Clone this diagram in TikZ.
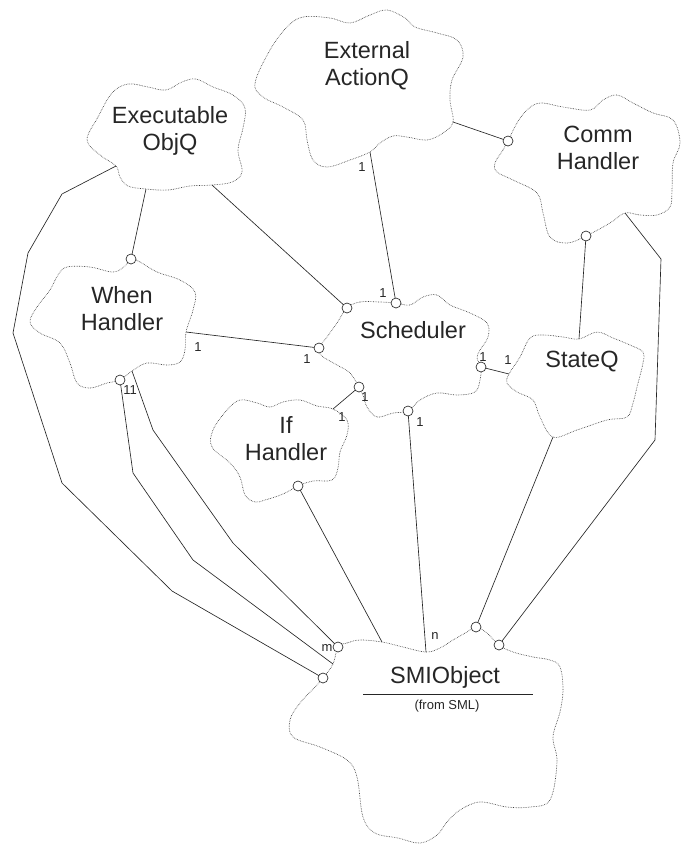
\documentclass[tikz,border=0pt]{standalone}
\usepackage{fontspec}
\setmainfont{Liberation Sans}
\begin{document}
\begin{tikzpicture}[x=1pt,y=-1pt,
  cloudline/.style={densely dotted,line width=.65pt,black!75},
  assoc/.style={line width=.65pt,black!85},
  ball/.style={draw=black!85,fill=white,line width=.65pt},
  cat/.style={font=\fontsize{23.5}{27}\selectfont,align=center,text=black!85},
  mult/.style={font=\fontsize{13}{15}\selectfont,inner sep=0pt,text=black!85}]
\useasboundingbox (0,0) rectangle (692,844);
% attachment points on the clouds
\coordinate (ext-r) at (453,122);
\coordinate (ext-b) at (370,152);
\coordinate (exq-r) at (212,185);
\coordinate (exq-b) at (146,189);
\coordinate (exq-l) at (116,166);
\coordinate (ch-l) at (508,141);
\coordinate (ch-br) at (625,213);
\coordinate (ch-b) at (586,236);
\coordinate (wh-t) at (131,259);
\coordinate (wh-r) at (186,332);
\coordinate (wh-b2) at (132,371);
\coordinate (wh-b) at (120,380);
\coordinate (sc-nw) at (347,308);
\coordinate (sc-n) at (396,303);
\coordinate (sc-e) at (481,367);
\coordinate (sc-s) at (408,411);
\coordinate (sc-sw) at (359,387);
\coordinate (sc-w) at (319,348);
\coordinate (st-l) at (509,374);
\coordinate (st-b) at (553,437);
\coordinate (st-t) at (579,339);
\coordinate (ih-t) at (333,409);
\coordinate (ih-b) at (298,486);
\coordinate (smi-m) at (338,647);
\coordinate (smi-n2) at (382,642);
\coordinate (smi-n) at (426,652);
\coordinate (smi-ne) at (476,627);
\coordinate (smi-e) at (499,645);
\coordinate (smi-l2) at (323,678);
\coordinate (smi-l) at (333,664);
% associations
\draw[assoc] (exq-b) -- (wh-t);
\draw[assoc] (exq-r) -- (sc-nw);
\draw[assoc] (exq-l) -- (62,194) -- (28,253) -- (13,333) -- (62,483) -- (172,591) -- (smi-l2);
\draw[assoc] (ext-b) -- (sc-n);
\draw[assoc] (ext-r) -- (ch-l);
\draw[assoc] (ch-b) -- (st-t);
\draw[assoc] (wh-r) -- (sc-w);
\draw[assoc] (sc-e) -- (st-l);
\draw[assoc] (ih-t) -- (sc-sw);
\draw[assoc] (sc-s) -- (smi-n);
\draw[assoc] (ih-b) -- (smi-n2);
\draw[assoc] (wh-b) -- (133,473) -- (193,560) -- (smi-l);
\draw[assoc] (wh-b2) -- (153,430) -- (233,543) -- (smi-m);
\draw[assoc] (st-b) -- (smi-ne);
\draw[assoc] (ch-br) -- (661,259) -- (655,440) -- (smi-e);
% clouds
\draw[cloudline] plot[smooth cycle,tension=.6] coordinates {(255,83) (270,50) (287,27) (303,17) (330,18) (350,23) (370,15) (387,10) (405,18) (415,27) (437,33) (457,40) (463,57) (452,80) (450,100) (ext-r) (443,133) (427,140) (407,137) (393,136) (380,143) (ext-b) (350,160) (327,167) (313,160) (307,140) (303,120) (283,107) (263,97)};
\draw[cloudline] plot[smooth cycle,tension=.6] coordinates {(87,140) (98,117) (112,93) (128,84) (148,87) (166,90) (182,82) (196,79) (213,87) (233,95) (245,108) (243,128) (238,150) (242,172) (232,182) (exq-r) (190,186) (168,190) (exq-b) (128,186) (120,177) (exq-l) (100,155)};
\draw[cloudline] plot[smooth cycle,tension=.6] coordinates {(495,163) (503,150) (ch-l) (517,123) (527,110) (540,103) (563,107) (590,110) (603,100) (617,95) (633,103) (653,113) (673,120) (680,143) (673,163) (672,190) (670,207) (657,215) (640,215) (ch-br) (610,223) (ch-b) (567,243) (550,237) (543,213) (537,193) (513,180) (497,172)};
\draw[cloudline] plot[smooth cycle,tension=.6] coordinates {(wh-t) (140,262) (157,272) (180,280) (195,292) (193,310) (wh-r) (185,350) (180,362) (167,365) (147,363) (wh-b2) (wh-b) (107,383) (90,388) (77,383) (70,363) (60,343) (40,333) (30,322) (37,307) (50,290) (58,275) (67,267) (90,267) (113,272) (125,266)};
\draw[cloudline] plot[smooth cycle,tension=.6] coordinates {(sc-nw) (360,302) (380,302) (sc-n) (410,305) (423,297) (437,295) (450,305) (470,313) (487,323) (488,337) (480,350) (477,358) (sc-e) (480,380) (475,392) (457,395) (437,393) (420,400) (sc-s) (393,413) (377,417) (367,407) (363,395) (sc-sw) (350,373) (337,365) (322,356) (sc-w) (327,337) (337,323)};
\draw[cloudline] plot[smooth cycle,tension=.6] coordinates {(st-l) (507,383) (517,392) (533,400) (540,417) (st-b) (577,430) (607,420) (627,417) (633,403) (637,387) (643,363) (643,352) (630,345) (613,338) (597,332) (st-t) (563,337) (543,335) (530,338) (520,357)};
\draw[cloudline] plot[smooth cycle,tension=.6] coordinates {(ih-t) (347,420) (347,435) (340,452) (338,468) (332,480) (313,481) (ih-b) (283,494) (265,500) (255,502) (245,495) (240,477) (230,463) (212,447) (213,430) (227,410) (240,400) (257,403) (270,407) (283,402) (300,400) (317,406)};
\draw[cloudline] plot[smooth cycle,tension=.6] coordinates {(smi-m) (347,643) (360,640) (smi-n2) (403,647) (smi-n) (440,648) (453,640) (467,632) (smi-ne) (487,633) (smi-e) (513,652) (533,657) (550,660) (560,667) (563,690) (560,712) (553,737) (557,762) (550,800) (530,807) (507,807) (480,802) (460,810) (447,822) (437,835) (420,843) (398,838) (375,833) (363,817) (357,777) (347,760) (320,747) (293,737) (290,720) (300,703) (317,685) (smi-l2) (smi-l)};
% open ends
\foreach \p in {wh-t,sc-nw,smi-l2,sc-n,ch-l,ch-b,sc-w,sc-e,sc-sw,sc-s,ih-b,wh-b,smi-m,smi-ne,smi-e}
  \draw[ball] (\p) circle (5pt);
% names
\node[cat] (ext) at (367,66) {External\\ActionQ};
\node[cat] (exq) at (170,131) {Executable\\ObjQ};
\node[cat] (ch) at (598,148) {Comm\\Handler};
\node[cat] (wh) at (122,309) {When\\Handler};
\node[cat] (sc) at (413,330) {Scheduler};
\node[cat] (st) at (582,362) {StateQ};
\node[cat] (ih) at (286,439) {If\\Handler};
\node[cat] (smi) at (445,677) {SMIObject};
\draw[assoc] (363,694) -- (533,694);
\node[mult] (smi-pkg) at (447,706) {(from SML)};
% multiplicities
\node[mult] (m1) at (362,167) {1};
\node[mult] (m2) at (383,293) {1};
\node[mult] (m3) at (198,347) {1};
\node[mult] (m4) at (307,359) {1};
\node[mult] (m5) at (483,357) {1};
\node[mult] (m6) at (508,360) {1};
\node[mult] (m7) at (342,417) {1};
\node[mult] (m8) at (365,397) {1};
\node[mult] (m9) at (420,422) {1};
\node[mult] (m10) at (435,636) {n};
\node[mult] (m11) at (130,390) {11};
\node[mult] (m12) at (327,648) {m};
\end{tikzpicture}
\end{document}
